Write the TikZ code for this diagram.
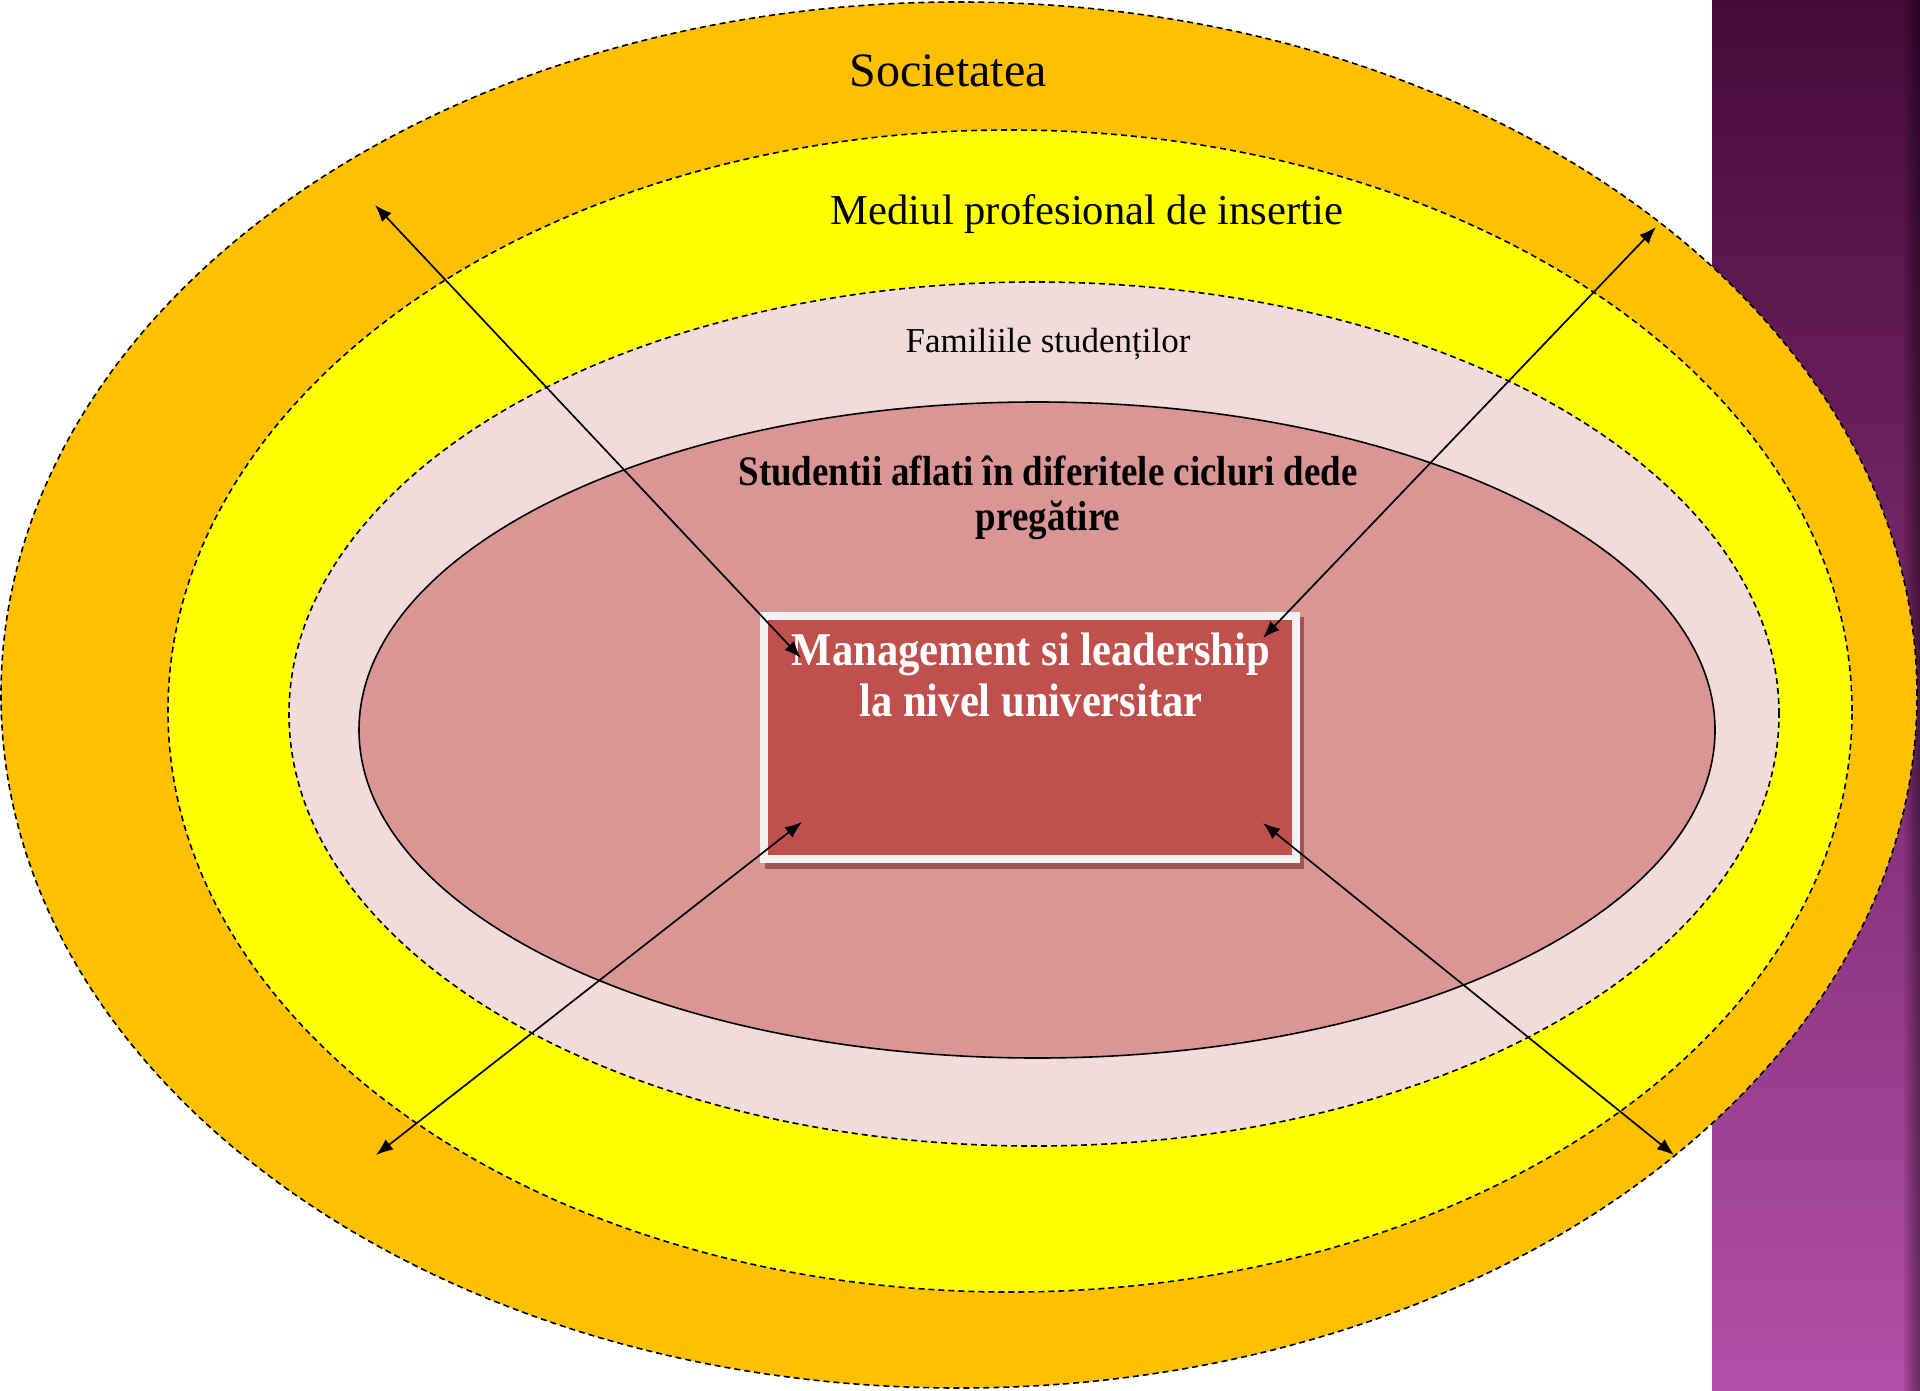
\documentclass[tikz,border=0pt]{standalone}
\usepackage{fontspec}
\setmainfont{Liberation Serif}
\usetikzlibrary{arrows.meta}

\definecolor{ringsoc}{HTML}{FFC000}
\definecolor{ringmed}{HTML}{FFFF00}
\definecolor{ringfam}{HTML}{F2DCDB}
\definecolor{ringstud}{HTML}{D99694}
\definecolor{corered}{HTML}{C0504D}
\definecolor{coreedge}{HTML}{F2F2F2}
\definecolor{coreshadow}{HTML}{9E5655}
\definecolor{stripTop}{HTML}{470A3A}
\definecolor{stripMid}{HTML}{7E3174}
\definecolor{stripBot}{HTML}{B24EA8}

\begin{document}
\begin{tikzpicture}[x=1pt,y=-1pt,
  ring/.style={draw=black, line width=1.6pt, dash pattern=on 6pt off 4pt},
  link/.style={line width=1.7pt, {Latex[length=17pt,width=13pt]}-{Latex[length=17pt,width=13pt]}},
  ringtext/.style={inner sep=0pt, anchor=base, text=black},
  coretext/.style={inner sep=0pt, anchor=base, text=white,
    font=\bfseries\fontsize{47}{51}\selectfont}]

% canvas
\useasboundingbox (0,0) rectangle (1920,1391);
\fill[white] (0,0) rectangle (1920,1391);

% purple side band with a darker right edge
\shade[top color=stripTop, middle color=stripMid, bottom color=stripBot]
  (1712,0) rectangle (1920,1391);
\foreach \k in {1,...,8}
  \fill[black, opacity=0.06] ({1920-2*\k},0) rectangle (1920,1391);

% nested circles of influence
\draw[ring, fill=ringsoc] (959,695) ellipse [x radius=958pt, y radius=693pt];
\draw[ring, fill=ringmed] (1010,711) ellipse [x radius=842pt, y radius=581pt];
\draw[ring, fill=ringfam] (1034,714) ellipse [x radius=745pt, y radius=432pt];
\draw[line width=1.6pt, fill=ringstud] (1037,730) ellipse [x radius=678pt, y radius=328pt];

% ring labels
\node[ringtext, font=\fontsize{48}{52}\selectfont] (soc) at (948,87) {Societatea};
\node[ringtext, font=\fontsize{42.6}{46}\selectfont] (med) at (1087,225) {Mediul profesional de insertie};
\node[ringtext, font=\fontsize{35}{40}\selectfont] (fam) at (1048,352) {Familiile studenților};
\node[ringtext, font=\bfseries\fontsize{42}{45}\selectfont] (studA) at (1048,485)
  {\scalebox{0.88}[1]{Studentii aflati în diferitele cicluri dede}};
\node[ringtext, font=\bfseries\fontsize{42}{45}\selectfont] (studB) at (1048,530)
  {\scalebox{0.88}[1]{pregătire}};

% central box
\fill[coreshadow] (765,617) rectangle (1304,869);
\node[draw=coreedge, fill=corered, line width=8pt, minimum width=532pt,
  minimum height=243pt, inner sep=0pt] (core) at (1030,737.5) {};
\node[coretext] (coreA) at (1031,665) {\scalebox{0.907}[1]{Management si leadership}};
\node[coretext] (coreB) at (1031,716) {\scalebox{0.907}[1]{la nivel universitar}};

% two-way links between the centre and society
\coordinate (outNW) at (375,205);
\coordinate (inNW)  at (801,658);
\coordinate (outNE) at (1656,227);
\coordinate (inNE)  at (1263,638);
\coordinate (outSW) at (376,1155);
\coordinate (inSW)  at (802,822);
\coordinate (outSE) at (1674,1155);
\coordinate (inSE)  at (1263,823);
\draw[link] (inNW) -- (outNW);
\draw[link] (inNE) -- (outNE);
\draw[link] (inSW) -- (outSW);
\draw[link] (inSE) -- (outSE);
\end{tikzpicture}
\end{document}
